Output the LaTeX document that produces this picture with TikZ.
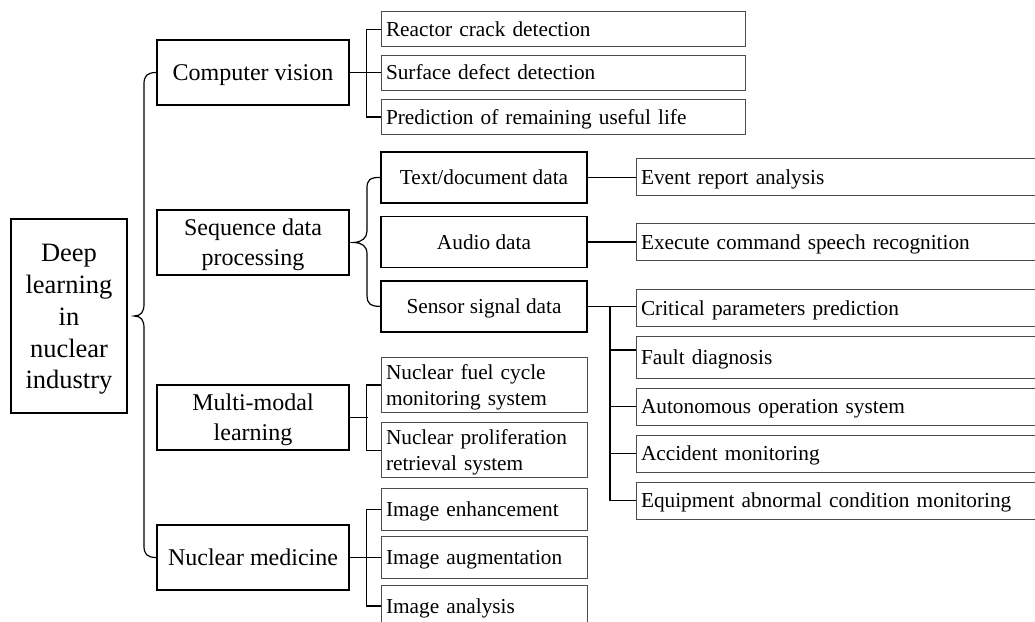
\documentclass[tikz,border=0pt]{standalone}
\usepackage{fontspec}
\setmainfont{Liberation Serif}
\usetikzlibrary{calc}
\newcommand{\mystrut}{\rule[-0.22em]{0pt}{1.14em}}
\begin{document}
\begin{tikzpicture}[x=1pt,y=-1pt,
  mainbox/.style={draw=black, line width=1.3pt, font=\fontsize{24}{30}\selectfont, align=center, inner sep=0pt, minimum width=192pt, minimum height=65pt},
  rootbox/.style={draw=black, line width=1.3pt, font=\fontsize{26.5}{31.8}\selectfont, align=center, inner sep=0pt, minimum width=116pt, minimum height=194pt},
  midbox/.style={draw=black, line width=1.3pt, font=\fontsize{21.3}{26}\selectfont, align=center, inner sep=0pt, minimum width=206pt, minimum height=51pt},
  leaf/.style={draw=black!70, line width=1pt, font=\fontsize{21.3}{26}\selectfont, align=left, inner xsep=5pt, inner ysep=0pt},
  leafA/.style={leaf, text width=354pt, minimum height=35pt},
  leafB/.style={leaf, text width=394pt, minimum height=37pt},
  leafC/.style={leaf, text width=196pt},
  conn/.style={draw=black, line width=1.2pt}
]
\useasboundingbox (0,0) rectangle (1035,621);
\clip (0,0) rectangle (1035,621);

% root and level 1
\node[rootbox] (root) at (69,316) {\mystrut Deep\\learning\\in\\nuclear\\industry};
\node[mainbox] (cv) at (253,72.5) {\mystrut Computer vision};
\node[mainbox] (seq) at (253,242.5) {\mystrut Sequence data\\processing};
\node[mainbox] (mm) at (253,417.5) {\mystrut Multi-modal\\learning};
\node[mainbox] (nm) at (253,557.5) {\mystrut Nuclear medicine};

% computer vision children
\node[leafA] (r1) at (563,29.2) {\mystrut Reactor crack detection};
\node[leafA] (r2) at (563,72.5) {\mystrut Surface defect detection};
\node[leafA] (r3) at (563,117) {\mystrut Prediction of remaining useful life};

% sequence children
\node[midbox] (t1) at (484,177.4) {\mystrut Text/document data};
\node[midbox] (t2) at (484,242) {\mystrut Audio data};
\node[midbox] (t3) at (484,306.4) {\mystrut Sensor signal data};

\node[leafB] (e1) at (838,177.4) {\mystrut Event report analysis};
\node[leafB] (e2) at (838,242) {\mystrut Execute command speech recognition};

\node[leafB] (s1) at (838,307.7) {\mystrut Critical parameters prediction};
\node[leafB, minimum height=41.6pt] (s2) at (838,357.5) {\mystrut Fault diagnosis};
\node[leafB] (s3) at (838,406.5) {\mystrut Autonomous operation system};
\node[leafB] (s4) at (838,453.5) {\mystrut Accident monitoring};
\node[leafB] (s5) at (838,500.5) {\mystrut Equipment abnormal condition monitoring};

% multi-modal children
\node[leafC, minimum height=55.7pt] (m1) at (484,384.9) {\mystrut Nuclear fuel cycle\\monitoring system};
\node[leafC, minimum height=55.3pt] (m2) at (484,450.3) {\mystrut Nuclear proliferation\\retrieval system};

% nuclear medicine children
\node[leafC, minimum height=41.7pt] (n1) at (484,509.2) {\mystrut Image enhancement};
\node[leafC, minimum height=41.7pt] (n2) at (484,557.5) {\mystrut Image augmentation};
\node[leafC, minimum height=42pt] (n3) at (484,606) {\mystrut Image analysis};

% root brace
\coordinate (rtip) at ($(root.east)+(6.5,0)$);
\path[conn] (cv.west) .. controls (147,72.5) and (144,76) .. (144,84)
  -- (144,304) .. controls (144,312) and (141,316) .. (rtip)
  .. controls (141,316) and (144,320) .. (144,328)
  -- (144,546) .. controls (144,554) and (147,557.5) .. (nm.west);

% sequence brace
\coordinate (stip) at ($(seq.east)+(4,0)$);
\path[conn] (t1.west) .. controls (370,177.4) and (367,180) .. (367,188)
  -- (367,231) .. controls (367,238) and (362,242) .. (stip)
  .. controls (362,242.8) and (367,246) .. (367,254)
  -- (367,296) .. controls (367,303) and (370,306.4) .. (t3.west);

% computer vision connectors
\path[conn] (cv.east) -- (r2.west);
\path[conn] (r1.west) -- ++(-14,0) |- (r3.west);

% text/audio connectors
\path[conn] (t1.east) -- (t1.east -| e1.west);
\path[conn] (t2.east) -- (t2.east -| e2.west);

% sensor connectors
\path[conn] (t3.east) -- (t3.east -| s1.west);
\coordinate (sv) at (610,306.4);
\path[conn] (sv) |- (s5.west);
\path[conn] ([yshift=7.5pt]s2.west) -- ++(-26,0);
\path[conn] (s3.west) -- ++(-26,0);
\path[conn] (s4.west) -- ++(-26,0);

% multi-modal connectors
\path[conn] (mm.east) -- ++(18,0);
\path[conn] (m1.west) -- ++(-14,0) |- (m2.west);

% nuclear medicine connectors
\path[conn] (nm.east) -- (n2.west);
\path[conn] (n1.west) -- ++(-14,0) |- (n3.west);
\end{tikzpicture}
\end{document}
